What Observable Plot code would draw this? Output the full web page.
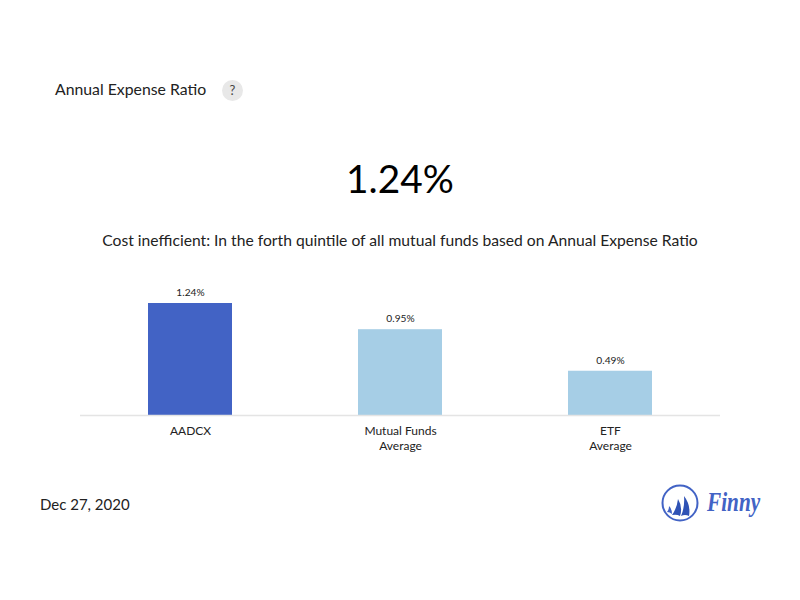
<!DOCTYPE html>
<html>
<head>
<meta charset="utf-8">
<script src="https://cdn.jsdelivr.net/npm/d3@7"></script>
<script src="https://cdn.jsdelivr.net/npm/@observablehq/plot@0.6"></script>
<style>
  html, body { margin: 0; background: #fff; }
  body { width: 800px; height: 600px; position: relative; overflow: hidden; font-family: Lato, sans-serif; color: #222; }
  .abs { position: absolute; white-space: nowrap; line-height: 20px; }
  #title { left: 55px; top: 79px; font-size: 15.8px; }
  #help { left: 222px; top: 80px; width: 21px; height: 21px; border-radius: 50%; background: #e8e8e8; font-size: 13px; line-height: 21px; text-align: center; color: #444; }
  #value { left: 0; width: 800px; top: 153px; line-height: 50px; text-align: center; font-size: 38.8px; color: #000; }
  #subtitle { left: 0; width: 800px; top: 230px; text-align: center; font-size: 15.66px; }
  #date { left: 40px; top: 494px; font-size: 15px; }
  #logo { position: absolute; left: 660px; top: 483px; }
  #chart { position: absolute; left: 0; top: 270px; }
</style>
</head>
<body>
<div class="abs" id="title">Annual Expense Ratio</div>
<div class="abs" id="help">?</div>
<div class="abs" id="value">1.24%</div>
<div class="abs" id="subtitle">Cost inefficient: In the forth quintile of all mutual funds based on Annual Expense Ratio</div>
<div id="chart"></div>
<div class="abs" id="date">Dec 27, 2020</div>
<svg id="logo" width="125" height="45" viewBox="0 0 125 45">
  <circle cx="20" cy="20" r="17.5" fill="none" stroke="#4263c5" stroke-width="2"/>
  <path d="M9 23 Q12 26 12 31 Q10 29 7 29 Q9 27 9 23 Z" fill="#4263c5"/>
  <path d="M18 16 Q23 24 20 33 Q17 31 12 32 Q17 25 18 16 Z" fill="#2f52b5"/>
  <path d="M24 13 Q31 22 29 33 Q25 31 21 33 Q25 24 24 13 Z" fill="#2f52b5"/>
  <text transform="translate(47 28) scale(0.76 1)" font-family="'Liberation Serif', serif" font-style="italic" font-weight="700" font-size="28" fill="#4263c5">Finny</text>
</svg>
<script>
// valores
const categories = ['AADCX', 'Mutual Funds\nAverage', 'ETF\nAverage']
const values = [1.24, 0.95, 0.49]
const valueLabels = ['1.24%', '0.95%', '0.49%']
const barColors = ['#4263c5', '#a6cee6', '#a6cee6']

const data = categories.map((c, i) => ({ name: c, value: values[i], label: valueLabels[i], color: barColors[i] }))

let chart = Plot.plot({
  width: 800,
  height: 190,
  marginTop: 0,
  marginBottom: 45,
  marginLeft: 80,
  marginRight: 80,
  style: { fontFamily: 'Lato, sans-serif', background: 'transparent' },
  x: { domain: categories, range: [83.5, 715.5], paddingInner: 0.6, paddingOuter: 0.3, label: null },
  y: { domain: [0, 1.24], range: [145, 33], axis: null, label: null },
  marks: [
    Plot.barY(data, { x: 'name', y: 'value', fill: 'color' }),
    Plot.ruleY([0], { stroke: '#e4e4e4', strokeWidth: 1.5 }),
    Plot.text(data, { x: 'name', y: 'value', text: 'label', dy: -11, fontSize: 10.2, fill: '#222' }),
    Plot.axisX({ tickSize: 0, tickPadding: 9, fontSize: 12, lineHeight: 1.25, color: '#222', label: null }),
  ],
})
d3.select('#chart').append(() => chart)
</script>
</body>
</html>
